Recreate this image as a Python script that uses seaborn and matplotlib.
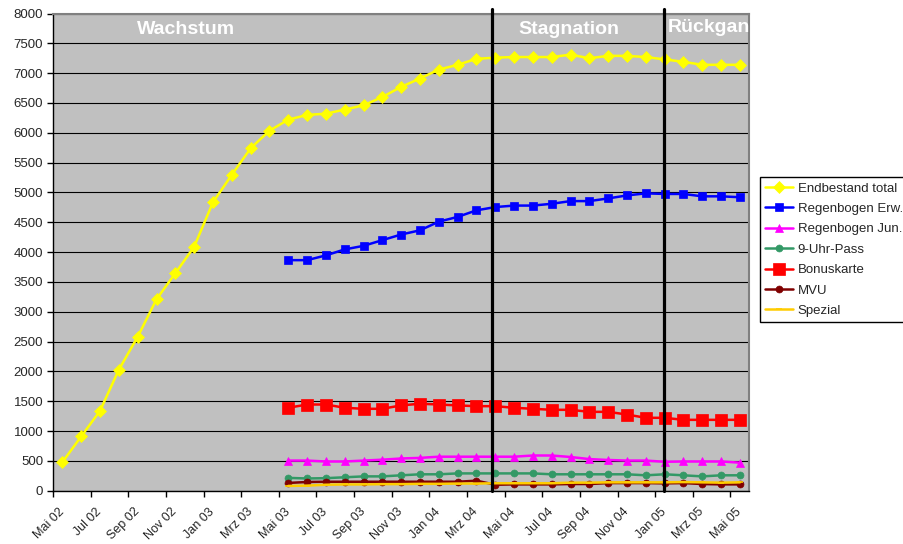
import numpy as np
import pandas as pd
import matplotlib
matplotlib.use("Agg")
import matplotlib.pyplot as plt
import seaborn as sns

# Monthly categories (Mai 02 .. Mai 05)
months = ["Mai 02", "Jun 02", "Jul 02", "Aug 02", "Sep 02", "Okt 02", "Nov 02", "Dez 02",
          "Jan 03", "Feb 03", "Mrz 03", "Apr 03", "Mai 03", "Jun 03", "Jul 03", "Aug 03",
          "Sep 03", "Okt 03", "Nov 03", "Dez 03", "Jan 04", "Feb 04", "Mrz 04", "Apr 04",
          "Mai 04", "Jun 04", "Jul 04", "Aug 04", "Sep 04", "Okt 04", "Nov 04", "Dez 04",
          "Jan 05", "Feb 05", "Mrz 05", "Apr 05", "Mai 05"]

endbestand_total = [480, 910, 1340, 2030, 2580, 3210, 3645, 4090, 4835, 5295, 5740, 6035,
                    6220, 6300, 6320, 6390, 6460, 6600, 6770, 6910, 7060, 7140, 7240, 7260,
                    7270, 7270, 7270, 7310, 7250, 7290, 7290, 7270, 7230, 7190, 7140, 7140, 7140]

# The following series start in Mai 03
start_sub = 12
regenbogen_erw = [3865, 3865, 3945, 4045, 4105, 4200, 4295, 4365, 4510, 4590, 4700, 4755,
                  4780, 4780, 4810, 4855, 4855, 4900, 4950, 4985, 4975, 4975, 4935, 4935, 4920]
regenbogen_jun = [505, 505, 490, 490, 505, 520, 540, 550, 570, 570, 570, 570,
                  570, 590, 590, 565, 530, 515, 505, 505, 485, 490, 490, 490, 470]
uhr_pass = [215, 205, 210, 225, 240, 240, 258, 275, 275, 290, 290, 290,
            290, 290, 275, 275, 275, 275, 275, 258, 275, 258, 240, 258, 258]
bonuskarte = [1390, 1445, 1445, 1390, 1373, 1373, 1430, 1458, 1445, 1430, 1417, 1417,
              1390, 1373, 1356, 1356, 1322, 1322, 1277, 1222, 1222, 1188, 1188, 1188, 1188]
mvu = [130, 146, 150, 150, 150, 150, 150, 150, 150, 150, 168, 100,
       106, 106, 106, 112, 112, 128, 128, 128, 123, 128, 112, 106, 106]
spezial = [80, 85, 100, 105, 105, 110, 110, 115, 115, 120, 120, 125,
           125, 125, 125, 135, 135, 140, 140, 140, 140, 145, 140, 135, 140]

phase_labels = ["Wachstum", "Stagnation", "Rückgang"]
phase_bounds = [22.84, 31.96]

series = [
    ("Endbestand total", endbestand_total, 0, "#FFFF00", "D", 6.5),
    ("Regenbogen Erw.", regenbogen_erw, start_sub, "#0000FF", "s", 5.5),
    ("Regenbogen Jun.", regenbogen_jun, start_sub, "#FF00FF", "^", 6),
    ("9-Uhr-Pass", uhr_pass, start_sub, "#339966", "o", 5),
    ("Bonuskarte", bonuskarte, start_sub, "#FF0000", "s", 9),
    ("MVU", mvu, start_sub, "#800000", "o", 5),
    ("Spezial", spezial, start_sub, "#FFCC00", "_", 4),
]

sns.set_style("white")
plt.rcParams["font.family"] = ["Liberation Sans", "DejaVu Sans"]

fig = plt.figure(figsize=(9.04, 5.44), dpi=100)
ax = fig.add_axes([53 / 904, 1 - 490.7 / 544, (749.3 - 53) / 904, (490.7 - 13.5) / 544])
ax.set_facecolor("#C0C0C0")

for name, vals, start, color, marker, ms in series:
    df = pd.DataFrame({"x": np.arange(start, start + len(vals)), "y": vals})
    sns.lineplot(data=df, x="x", y="y", ax=ax, color=color, marker=marker,
                 markersize=ms, markeredgecolor=color, linewidth=1.8, label=name,
                 zorder=3, markeredgewidth=1.2 if marker == "_" else 0.5)

ax.set_xlim(-0.5, len(months) - 0.5)
ax.set_ylim(0, 8000)
ax.set_yticks(np.arange(0, 8001, 500))
ax.yaxis.grid(True, color="#000000", linewidth=0.8)
ax.xaxis.grid(False)
ax.set_axisbelow(True)
ax.set_xlabel("")
ax.set_ylabel("")

# Tick marks between every second category, labels on the category itself
ax.set_xticks(np.arange(-0.5, len(months) - 0.5, 2))
ax.set_xticklabels([])
ax.set_xticks(np.arange(0, len(months), 2), minor=True)
ax.set_xticklabels(months[::2], minor=True, rotation=45, ha="right", va="center",
                   rotation_mode="anchor", fontsize=9)
ax.tick_params(axis="x", which="major", direction="out", length=4, width=1, color="black",
               bottom=True)
ax.tick_params(axis="x", which="minor", length=0, pad=14)
ax.tick_params(axis="y", direction="out", length=4, width=1, color="black", left=True,
               labelsize=9.5, pad=3)

for side in ["left", "bottom"]:
    ax.spines[side].set_color("black")
    ax.spines[side].set_linewidth(1)
for side in ["top", "right"]:
    ax.spines[side].set_color("#808080")
    ax.spines[side].set_linewidth(1.5)

# Phase separators
for xb in phase_bounds:
    ax.plot([xb, xb], [0, 8080], color="black", linewidth=2.3, clip_on=False, zorder=4)

ax.text(6.57, 7730, phase_labels[0], color="white", fontsize=14, fontweight="bold",
        ha="center", va="center", zorder=5)
ax.text(26.9, 7730, phase_labels[1], color="white", fontsize=14, fontweight="bold",
        ha="center", va="center", zorder=5)
ax.text(32.15, 7770, phase_labels[2], color="white", fontsize=14, fontweight="bold",
        ha="left", va="center", zorder=5, clip_on=True)

handles, labels = ax.get_legend_handles_labels()
ax.get_legend().remove()
leg = fig.legend(handles, labels, loc="upper left",
                 bbox_to_anchor=(760 / 904, 1 - 177 / 544), fontsize=9.5,
                 frameon=True, fancybox=False, edgecolor="black", framealpha=1,
                 handlelength=2.1, handletextpad=0.35, labelspacing=0.62,
                 borderpad=0.4, borderaxespad=0)
leg.get_frame().set_linewidth(1)

fig.savefig("out.png", dpi=100)
